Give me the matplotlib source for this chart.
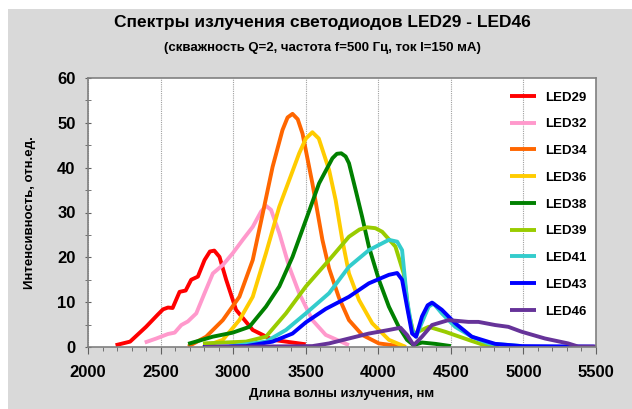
import matplotlib
matplotlib.use("Agg")
import matplotlib.pyplot as plt
from matplotlib.patches import Rectangle
from matplotlib.ticker import MultipleLocator

plt.rcParams['font.family'] = ['Liberation Sans', 'DejaVu Sans']
plt.rcParams['font.weight'] = 'bold'

# spectra (wavelength nm, intensity rel. units)
led29_x = [2190, 2290, 2400, 2480, 2517, 2551, 2583, 2631, 2673, 2711, 2757, 2803, 2840, 2870, 2906, 2952, 3020, 3135, 3272, 3500]
led29_y = [0.4, 1.2, 4.5, 7.2, 8.4, 8.8, 8.7, 12.3, 12.6, 15.0, 15.7, 19.4, 21.3, 21.5, 20.1, 15.0, 8.3, 3.8, 1.6, 0.6]

led32_x = [2391, 2471, 2551, 2597, 2643, 2688, 2746, 2803, 2860, 2929, 2997, 3066, 3135, 3192, 3226, 3261, 3318, 3386, 3455, 3546, 3638, 3798]
led32_y = [1.0, 1.9, 2.9, 3.2, 4.9, 5.7, 7.5, 12.0, 16.4, 18.3, 20.9, 23.9, 26.8, 30.2, 31.5, 30.6, 25.4, 17.9, 12.0, 6.0, 2.7, 0.4]

led34_x = [2690, 2814, 2929, 3043, 3135, 3204, 3272, 3340, 3375, 3409, 3445, 3478, 3546, 3615, 3661, 3729, 3798, 3889, 4004, 4190]
led34_y = [0.1, 2.3, 6.0, 11.2, 19.4, 29.8, 40.2, 48.4, 51.2, 52.0, 50.8, 47.6, 36.5, 23.9, 17.5, 11.0, 6.0, 2.7, 0.8, 0.0]

led36_x = [2792, 2929, 3043, 3135, 3226, 3318, 3386, 3455, 3501, 3546, 3590, 3661, 3706, 3752, 3798, 3867, 3958, 4073, 4190]
led36_y = [0.0, 1.6, 6.0, 11.2, 20.9, 31.3, 37.2, 43.2, 46.5, 47.9, 46.5, 39.5, 32.8, 23.9, 16.4, 10.5, 5.3, 1.6, 0.0]

led38_x = [2690, 2860, 2997, 3112, 3226, 3318, 3409, 3501, 3592, 3684, 3715, 3745, 3775, 3798, 3844, 3889, 3935, 4004, 4073, 4141, 4198, 4244, 4301, 4393, 4500]
led38_y = [0.7, 2.3, 3.2, 4.5, 9.0, 13.5, 20.1, 28.3, 36.5, 42.1, 43.1, 43.2, 42.5, 41.0, 35.0, 29.0, 22.4, 15.0, 9.0, 4.5, 1.6, 0.4, 1.0, 0.7, 0.2]

led39_x = [2792, 3089, 3226, 3364, 3501, 3661, 3798, 3870, 3923, 3980, 4027, 4118, 4175, 4210, 4244, 4301, 4347, 4461, 4621, 4713, 4830]
led39_y = [0.8, 1.2, 2.3, 7.5, 13.5, 19.4, 24.6, 26.2, 26.7, 26.5, 25.7, 22.4, 16.4, 7.5, 3.0, 3.8, 4.5, 3.4, 1.6, 0.6, 0.1]

led41_x = [2974, 3226, 3364, 3501, 3661, 3798, 3935, 4073, 4130, 4164, 4198, 4233, 4260, 4301, 4347, 4381, 4438, 4530, 4644, 4759, 4988]
led41_y = [0.1, 1.2, 3.8, 7.5, 12.0, 17.9, 21.6, 23.9, 23.5, 21.6, 10.5, 3.8, 2.3, 5.5, 9.0, 9.7, 7.5, 4.5, 2.3, 0.8, 0.2]

led43_x = [2792, 3089, 3272, 3409, 3501, 3638, 3798, 3935, 4073, 4130, 4164, 4198, 4233, 4260, 4301, 4340, 4370, 4438, 4530, 4644, 4805, 4988, 5490]
led43_y = [0.0, 0.2, 1.2, 3.0, 5.5, 8.5, 11.2, 14.2, 16.1, 16.5, 15.0, 9.0, 3.0, 2.3, 6.8, 9.3, 9.9, 8.3, 5.3, 2.3, 0.7, 0.2, 0.1]

led46_x = [2800, 3546, 3661, 3798, 3935, 4073, 4153, 4198, 4244, 4301, 4370, 4484, 4621, 4690, 4805, 4896, 4988, 5148, 5308, 5377, 5500]
led46_y = [0.0, 0.2, 0.8, 1.9, 3.0, 3.8, 4.3, 2.7, 0.4, 2.3, 4.9, 6.0, 5.6, 5.6, 4.9, 4.5, 3.4, 1.9, 0.8, 0.1, 0.1]

series = [
    ("LED29", led29_x, led29_y, "#FF0000"),
    ("LED32", led32_x, led32_y, "#FF99CC"),
    ("LED34", led34_x, led34_y, "#FF6600"),
    ("LED36", led36_x, led36_y, "#FFCC00"),
    ("LED38", led38_x, led38_y, "#008000"),
    ("LED39", led39_x, led39_y, "#99CC00"),
    ("LED41", led41_x, led41_y, "#33CCCC"),
    ("LED43", led43_x, led43_y, "#0000FF"),
    ("LED46", led46_x, led46_y, "#663399"),
]

fig = plt.figure(figsize=(6.32, 4.09), dpi=100, facecolor="white")
fig.patches.append(Rectangle((8 / 632, 0), 1, 1 - 9 / 409, transform=fig.transFigure,
                             facecolor="#D9D9D9", edgecolor="none", zorder=-10))

ax = fig.add_axes([88 / 632, 1 - 347 / 409, 508 / 632, 269 / 409])
ax.set_facecolor("white")

for name, xs, ys, col in series:
    ax.plot(xs, ys, color=col, lw=2.8, label=name, solid_capstyle="butt", solid_joinstyle="round")

ax.set_xlim(2000, 5500)
ax.set_ylim(0, 60)
ax.xaxis.set_major_locator(MultipleLocator(500))
ax.xaxis.set_minor_locator(MultipleLocator(100))
ax.yaxis.set_major_locator(MultipleLocator(10))
ax.yaxis.set_minor_locator(MultipleLocator(5))
ax.grid(axis="x", which="major", color="#A0A0A0", linestyle=(0, (1, 1)), lw=0.8)

for s in ax.spines.values():
    s.set_color("#808080")
    s.set_linewidth(1.2)

ax.tick_params(axis="x", which="major", direction="out", length=5, color="#606060", labelsize=12, pad=8)
ax.tick_params(axis="x", which="minor", direction="out", length=3, color="#606060")
ax.tick_params(axis="y", which="both", direction="inout", length=4, color="#606060", labelsize=12, pad=7)
for lbl in ax.get_xticklabels() + ax.get_yticklabels():
    lbl.set_fontweight("bold")

ax.set_xlabel("Длина волны излучения, нм", fontsize=9.5, fontweight="bold", labelpad=6)
ax.set_ylabel("Интенсивность, отн.ед.", fontsize=9.5, fontweight="bold", labelpad=15)

leg = ax.legend(loc="upper right", bbox_to_anchor=(1.0, 0.985), frameon=False,
                prop={"size": 9.5, "weight": "bold"}, handlelength=2.0,
                labelspacing=1.1, handletextpad=0.7, borderaxespad=0.3)

fig.text(0.51, 1 - 22 / 409, "Спектры излучения светодиодов LED29 - LED46",
         ha="center", va="center", fontsize=12.5, fontweight="bold")
fig.text(0.51, 1 - 48 / 409, "(скважность Q=2, частота f=500 Гц, ток I=150 мА)",
         ha="center", va="center", fontsize=9.5, fontweight="bold")

fig.savefig("out.png", dpi=100, facecolor=fig.get_facecolor())
